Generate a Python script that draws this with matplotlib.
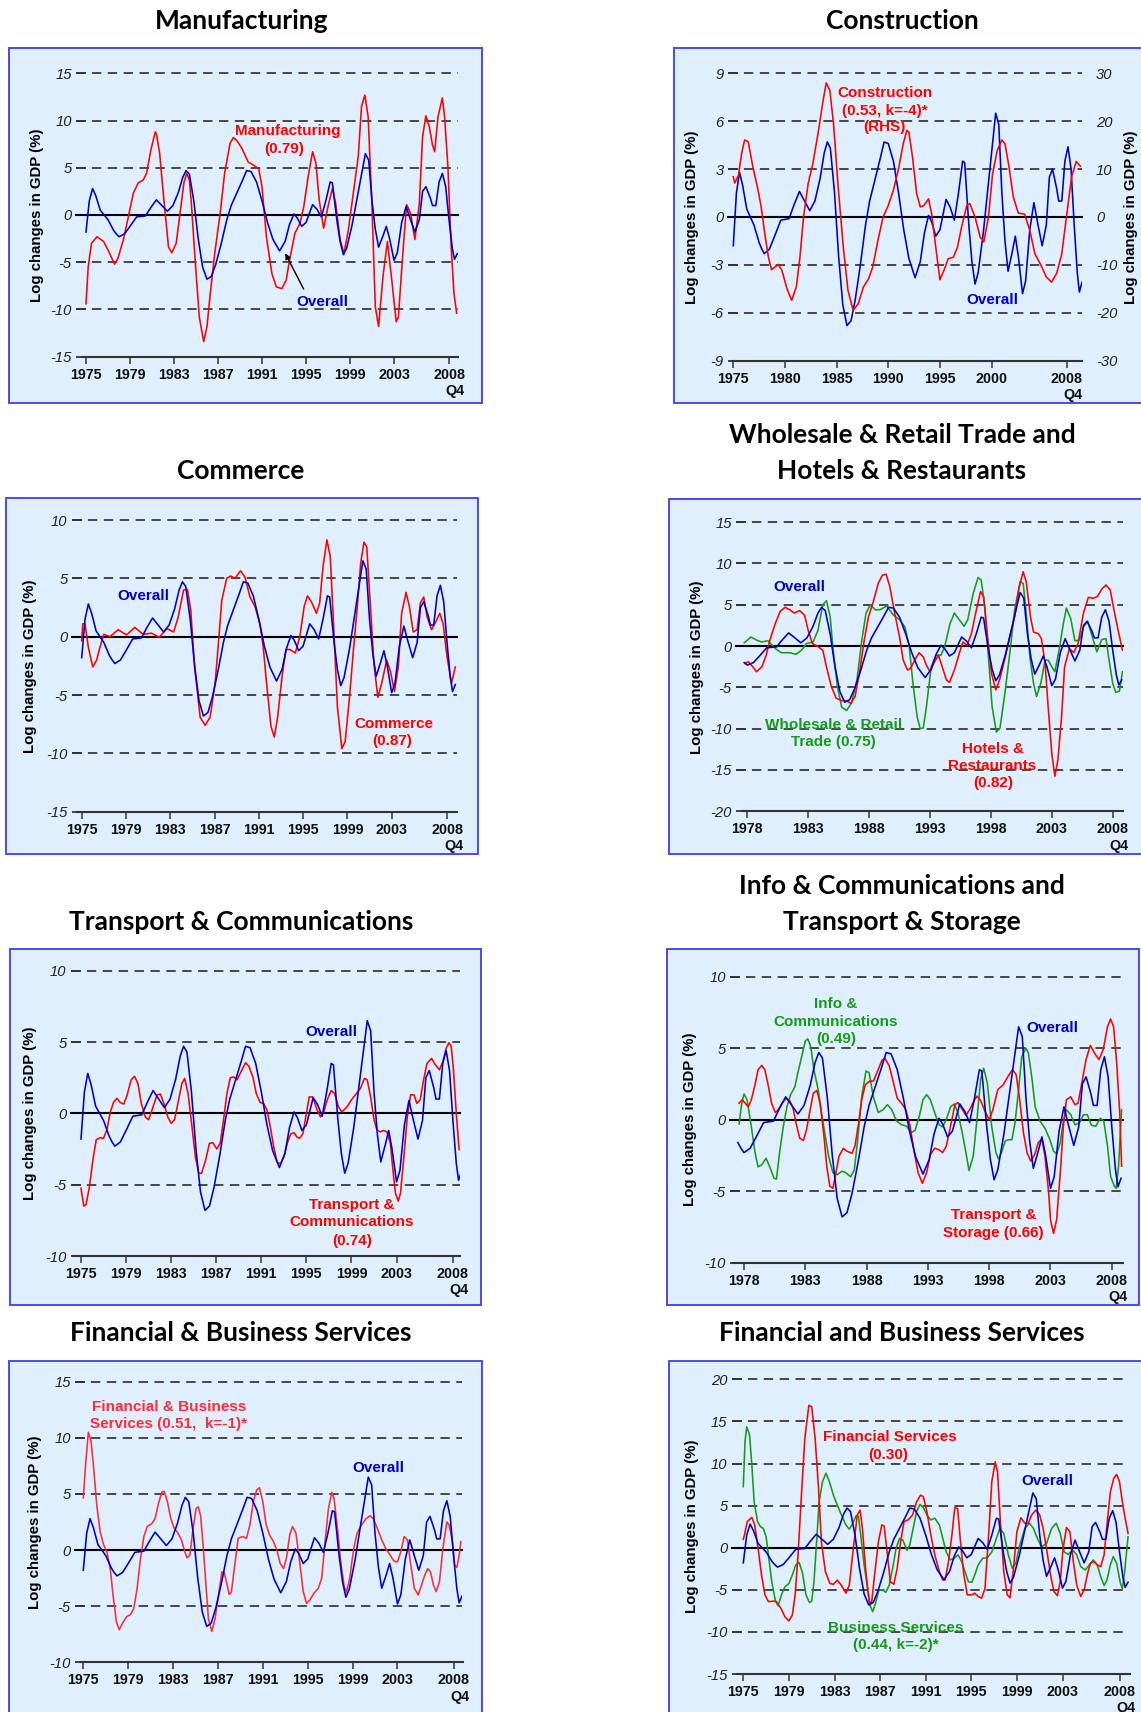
import matplotlib
matplotlib.use('Agg')
import matplotlib.pyplot as plt
from matplotlib.patches import Rectangle

# ---------------- DATA (year, value) ----------------
OVERALL = [(1975.0, -1.8), (1975.3, 1.5), (1975.6, 2.8), (1975.9, 2.0), (1976.3, 0.5), (1977.0, -0.5),
           (1977.5, -1.6), (1977.75, -2.0), (1978.0, -2.3), (1978.5, -2.0), (1979.0, -1.2), (1979.6, -0.2),
           (1980.4, -0.1), (1980.9, 0.8), (1981.4, 1.6), (1981.9, 1.0), (1982.4, 0.4), (1982.9, 1.0),
           (1983.4, 2.4), (1983.8, 4.0), (1984.1, 4.7), (1984.4, 4.3), (1984.8, 1.5), (1985.2, -2.5),
           (1985.6, -5.5), (1986.0, -6.8), (1986.4, -6.5), (1986.8, -5.2), (1987.3, -3.0), (1987.8, -0.5),
           (1988.2, 1.0), (1988.7, 2.3), (1989.2, 3.6), (1989.6, 4.7), (1990.0, 4.6), (1990.5, 3.5),
           (1991.0, 1.5), (1991.5, -0.8), (1992.0, -2.6), (1992.6, -3.8), (1993.1, -2.8), (1993.5, -1.0),
           (1993.9, 0.1), (1994.2, -0.3), (1994.6, -1.2), (1995.0, -0.8), (1995.6, 1.1), (1996.0, 0.6),
           (1996.4, -0.2), (1996.8, 1.5), (1997.2, 3.5), (1997.4, 3.4), (1997.8, -0.5), (1998.1, -2.8),
           (1998.4, -4.2), (1998.7, -3.5), (1999.2, -1.0), (1999.6, 1.5), (2000.0, 4.0), (2000.4, 6.5),
           (2000.7, 5.8), (2001.0, 1.5), (2001.3, -1.5), (2001.6, -3.4), (2002.0, -2.2), (2002.3, -1.2),
           (2002.6, -2.5), (2003.0, -4.8), (2003.3, -4.0), (2003.7, -0.8), (2004.1, 0.9), (2004.5, -0.5),
           (2004.9, -1.8), (2005.3, -0.5), (2005.6, 2.5), (2005.9, 3.0), (2006.3, 1.8), (2006.5, 1.0),
           (2006.8, 1.0), (2007.1, 3.5), (2007.4, 4.4), (2007.7, 3.0), (2008.0, -0.5), (2008.3, -3.5),
           (2008.5, -4.7), (2008.75, -4.1)]

MANUFACTURING = [(1975.0, -9.4), (1975.2, -5.5), (1975.5, -3.0), (1976.0, -2.3), (1976.6, -2.8), (1977.0, -3.7),
                 (1977.6, -5.2), (1977.9, -4.6), (1978.4, -2.6), (1978.85, -0.2), (1979.3, 2.3), (1979.75, 3.4),
                 (1980.2, 3.7), (1980.5, 4.4), (1980.9, 6.9), (1981.3, 8.8), (1981.4, 8.6), (1981.7, 6.5),
                 (1982.0, 2.6), (1982.5, -3.4), (1982.8, -4.0), (1983.2, -3.0), (1983.55, 0.2), (1983.9, 3.4),
                 (1984.15, 4.4), (1984.4, 3.7), (1984.6, 0.9), (1984.9, -4.4), (1985.3, -10.8), (1985.7, -13.4),
                 (1986.0, -11.8), (1986.3, -8.3), (1986.7, -4.1), (1987.2, 0.2), (1987.6, 4.4), (1988.1, 7.6),
                 (1988.4, 8.2), (1988.7, 7.9), (1989.15, 7.1), (1989.75, 5.6), (1990.2, 5.3), (1990.7, 4.9),
                 (1991.0, 3.0), (1991.4, -2.3), (1991.9, -6.2), (1992.3, -7.6), (1992.8, -7.8), (1993.2, -6.9),
                 (1993.5, -4.8), (1994.0, -1.9), (1994.45, -0.9), (1994.8, 0.9), (1995.2, 4.1), (1995.6, 6.7),
                 (1995.9, 5.5), (1996.2, 1.6), (1996.6, -1.4), (1997.0, 0.9), (1997.4, 2.8), (1997.7, 1.2),
                 (1998.1, -2.6), (1998.45, -4.1), (1998.85, -1.6), (1999.3, 2.3), (1999.75, 6.2), (2000.05, 11.5),
                 (2000.35, 12.7), (2000.65, 10.4), (2001.0, 0.9), (2001.3, -9.7), (2001.6, -11.8), (2002.0, -6.5),
                 (2002.4, -2.8), (2002.8, -6.9), (2003.2, -11.3), (2003.4, -10.8), (2003.8, -4.1), (2004.15, 1.1),
                 (2004.5, 0.2), (2004.9, -2.6), (2005.3, 1.2), (2005.6, 8.3), (2005.9, 10.5), (2006.2, 9.4),
                 (2006.5, 7.4), (2006.7, 6.7), (2007.0, 10.4), (2007.4, 12.4), (2007.6, 10.4), (2007.9, 5.1),
                 (2008.2, -3.4), (2008.45, -8.3), (2008.7, -10.4)]

CONSTRUCTION_RHS = [(1975.0, 8.4), (1975.15, 7.1), (1975.5, 8.7), (1975.8, 13.2), (1976.1, 16.1), (1976.45, 15.7),
                    (1976.9, 10.4), (1977.4, 5.6), (1977.7, 2.1), (1978.05, -3.5), (1978.4, -8.4), (1978.7, -11.0),
                    (1979.35, -9.9), (1979.7, -11.1), (1980.2, -15.0), (1980.65, -17.4), (1981.1, -14.6),
                    (1981.45, -8.4), (1981.8, 0.0), (1982.25, 7.0), (1982.7, 11.1), (1983.2, 17.4), (1983.7, 24.4),
                    (1984.0, 28.0), (1984.35, 26.4), (1984.7, 19.5), (1985.15, 6.3), (1985.65, -6.3), (1986.1, -15.3),
                    (1986.6, -19.5), (1987.1, -18.1), (1987.6, -14.6), (1988.1, -12.9), (1988.5, -10.4),
                    (1989.0, -4.9), (1989.5, 0.0), (1990.0, 2.4), (1990.5, 5.6), (1991.0, 10.1), (1991.45, 15.3),
                    (1991.8, 18.1), (1992.0, 17.7), (1992.35, 12.5), (1992.75, 4.9), (1993.1, 2.1), (1993.45, 2.4),
                    (1993.9, 3.8), (1994.2, 0.7), (1994.6, -6.3), (1995.0, -13.1), (1995.4, -11.1), (1995.8, -8.7),
                    (1996.3, -8.4), (1996.7, -6.3), (1997.1, -2.1), (1997.6, 2.4), (1997.9, 2.8), (1998.4, 0.0),
                    (1998.9, -4.2), (1999.25, -5.2), (1999.7, 0.0), (2000.1, 9.0), (2000.55, 13.9), (2001.0, 16.1),
                    (2001.3, 15.3), (2001.7, 10.4), (2002.1, 4.2), (2002.6, 0.8), (2003.2, 0.6), (2003.7, -2.8),
                    (2004.2, -7.7), (2004.7, -9.7), (2005.3, -12.5), (2005.8, -13.6), (2006.3, -11.8),
                    (2006.8, -7.7), (2007.25, 0.0), (2007.75, 8.4), (2008.2, 11.6), (2008.6, 10.6)]

COMMERCE = [(1975.0, -0.35), (1975.1, 1.1), (1975.3, 1.1), (1975.6, -0.9), (1976.0, -2.6), (1976.35, -2.0),
            (1976.65, -0.9), (1977.0, 0.2), (1977.55, 0.0), (1978.3, 0.6), (1979.05, 0.15), (1979.8, 0.8),
            (1980.55, 0.2), (1981.3, 0.3), (1982.0, -0.05), (1982.7, 0.7), (1983.3, 0.4), (1983.7, 1.6),
            (1984.2, 4.0), (1984.55, 4.05), (1984.85, 2.3), (1985.2, -2.6), (1985.7, -6.9), (1986.15, -7.6),
            (1986.6, -6.9), (1987.05, -4.0), (1987.35, -0.6), (1987.65, 3.1), (1988.1, 5.0), (1988.45, 5.2),
            (1988.85, 5.0), (1989.35, 5.65), (1989.75, 5.1), (1990.2, 3.4), (1990.65, 2.6), (1991.1, 1.1),
            (1991.4, -0.9), (1991.7, -4.0), (1992.1, -7.7), (1992.4, -8.6), (1992.7, -6.9), (1993.1, -3.4),
            (1993.45, -1.1), (1993.8, -1.1), (1994.3, -1.4), (1994.7, 0.0), (1995.1, 2.6), (1995.4, 3.5),
            (1995.8, 2.9), (1996.2, 2.0), (1996.5, 2.9), (1996.8, 6.0), (1997.15, 8.3), (1997.45, 6.9),
            (1997.75, 1.1), (1998.1, -6.0), (1998.5, -9.6), (1998.8, -9.0), (1999.2, -5.1), (1999.55, -1.1),
            (1999.9, 2.6), (2000.2, 6.3), (2000.5, 8.1), (2000.75, 7.7), (2001.05, 3.1), (2001.4, -2.3),
            (2001.75, -5.2), (2002.1, -4.0), (2002.55, -2.0), (2002.9, -3.0), (2003.25, -4.7), (2003.6, -2.6),
            (2003.9, 2.0), (2004.3, 3.8), (2004.6, 2.6), (2004.95, 0.4), (2005.3, 0.6), (2005.6, 2.9),
            (2005.9, 3.4), (2006.2, 1.7), (2006.6, 0.6), (2007.0, 1.3), (2007.35, 2.0), (2007.65, 1.1),
            (2008.0, -1.7), (2008.4, -4.0), (2008.75, -2.6)]

WHOLESALE = [(1977.75, 0.4), (1978.3, 1.1), (1978.8, 0.7), (1979.2, 0.5), (1979.7, 0.65), (1980.3, -0.3),
             (1980.8, -0.8), (1981.5, -0.8), (1982.0, -1.0), (1982.45, -0.5), (1982.85, 0.3), (1983.4, 0.5),
             (1983.8, 1.9), (1984.2, 5.0), (1984.5, 5.5), (1984.8, 3.6), (1985.05, -0.5), (1985.4, -4.9),
             (1985.75, -7.4), (1986.15, -7.8), (1986.55, -6.9), (1987.0, -4.1), (1987.4, 0.7), (1987.75, 4.0),
             (1988.1, 5.0), (1988.5, 4.4), (1988.9, 4.4), (1989.45, 4.85), (1990.0, 3.75), (1990.5, 3.2),
             (1990.95, 2.3), (1991.3, -0.1), (1991.6, -4.5), (1991.95, -8.6), (1992.2, -10.0), (1992.45, -9.9),
             (1992.7, -7.4), (1993.1, -2.5), (1993.5, -1.1), (1993.9, -1.1), (1994.2, -0.1), (1994.65, 2.75),
             (1995.0, 4.0), (1995.4, 3.2), (1995.8, 2.4), (1996.1, 3.2), (1996.55, 6.4), (1996.95, 8.3),
             (1997.2, 8.0), (1997.5, 4.8), (1997.8, -1.3), (1998.1, -7.35), (1998.45, -10.4), (1998.75, -9.9),
             (1999.15, -5.7), (1999.55, -0.9), (1999.95, 4.4), (2000.4, 7.8), (2000.65, 7.6), (2000.9, 4.0),
             (2001.2, -1.3), (2001.5, -4.5), (2001.75, -6.1), (2002.1, -4.5), (2002.45, -1.7), (2002.7, -1.7),
             (2003.0, -2.5), (2003.25, -3.1), (2003.6, -0.5), (2003.95, 2.75), (2004.2, 4.6), (2004.55, 3.35),
             (2004.9, 0.65), (2005.25, 0.7), (2005.6, 2.3), (2005.95, 3.0), (2006.25, 1.5), (2006.7, -0.7),
             (2007.1, 0.8), (2007.45, 0.9), (2007.7, -1.7), (2008.0, -4.5), (2008.25, -5.6), (2008.55, -5.45),
             (2008.8, -3.1)]

HOTELS = [(1977.8, -2.1), (1978.1, -1.9), (1978.45, -2.5), (1978.75, -3.1), (1979.2, -2.5), (1979.55, -1.1),
          (1979.85, 0.7), (1980.3, 2.75), (1980.7, 4.2), (1981.1, 4.7), (1981.5, 4.4), (1981.85, 4.0),
          (1982.3, 4.3), (1982.7, 3.75), (1983.0, 1.9), (1983.35, 0.3), (1983.75, 0.0), (1984.2, -0.5),
          (1984.5, -2.5), (1984.9, -4.9), (1985.3, -6.3), (1985.75, -6.6), (1986.15, -6.6), (1986.5, -6.95),
          (1986.85, -6.1), (1987.2, -3.3), (1987.6, 0.7), (1987.95, 3.55), (1988.35, 5.4), (1988.75, 7.6),
          (1989.1, 8.6), (1989.4, 8.7), (1989.7, 7.2), (1990.1, 4.0), (1990.5, 1.1), (1990.8, -1.7),
          (1991.15, -2.9), (1991.4, -2.7), (1991.75, -1.7), (1992.1, -0.8), (1992.45, -1.3), (1992.7, -2.3),
          (1993.0, -3.1), (1993.3, -2.1), (1993.7, -1.1), (1994.0, -2.5), (1994.35, -4.1), (1994.6, -4.4),
          (1995.0, -2.9), (1995.4, -0.9), (1995.7, 0.5), (1996.05, 0.1), (1996.4, 1.5), (1996.75, 4.0),
          (1997.15, 6.6), (1997.4, 6.0), (1997.7, 1.5), (1998.05, -3.3), (1998.4, -5.3), (1998.75, -3.9),
          (1999.15, -1.5), (1999.55, 1.1), (1999.95, 3.55), (2000.3, 7.0), (2000.65, 9.0), (2000.9, 7.8),
          (2001.25, 3.55), (2001.5, 1.7), (2001.9, 1.5), (2002.15, 0.9), (2002.45, -2.1), (2002.7, -7.35),
          (2003.0, -13.0), (2003.25, -15.75), (2003.5, -13.8), (2003.8, -8.6), (2004.05, -2.5), (2004.45, -0.3),
          (2004.8, -0.8), (2005.15, 0.3), (2005.6, 4.0), (2006.0, 5.9), (2006.4, 5.8), (2006.75, 6.0),
          (2007.1, 6.9), (2007.45, 7.4), (2007.8, 6.8), (2008.1, 4.4), (2008.45, 1.9), (2008.8, -0.5)]

TRANSPORT_COMM = [(1975.0, -5.25), (1975.25, -6.5), (1975.45, -6.4), (1975.75, -5.15), (1976.05, -3.3),
                  (1976.35, -1.85), (1976.7, -1.7), (1977.0, -1.75), (1977.3, -1.15), (1977.6, 0.1), (1977.9, 0.8),
                  (1978.2, 1.05), (1978.5, 0.75), (1978.8, 0.65), (1979.1, 1.3), (1979.45, 2.35), (1979.75, 2.6),
                  (1980.05, 2.1), (1980.35, 0.7), (1980.7, -0.25), (1981.0, -0.45), (1981.35, 0.35), (1981.75, 1.3),
                  (1982.05, 1.35), (1982.35, 0.7), (1982.7, -0.25), (1983.0, -0.7), (1983.3, -0.45), (1983.6, 0.7),
                  (1983.95, 2.1), (1984.2, 2.45), (1984.5, 1.4), (1984.85, -0.95), (1985.15, -3.05), (1985.45, -4.2),
                  (1985.7, -4.2), (1986.05, -3.3), (1986.4, -2.1), (1986.7, -2.05), (1987.05, -2.5), (1987.35, -2.1),
                  (1987.65, -0.45), (1987.95, 1.4), (1988.25, 2.5), (1988.55, 2.55), (1988.85, 2.35), (1989.25, 3.0),
                  (1989.6, 3.55), (1989.9, 3.3), (1990.25, 2.55), (1990.55, 1.4), (1990.9, 0.75), (1991.2, 0.7),
                  (1991.5, 0.25), (1991.8, -0.95), (1992.1, -2.35), (1992.4, -3.4), (1992.7, -3.55), (1993.0, -3.05),
                  (1993.3, -2.1), (1993.6, -1.45), (1993.9, -1.35), (1994.15, -1.65), (1994.4, -1.75), (1994.7, -1.4),
                  (1995.0, 0.0), (1995.25, 1.15), (1995.55, 1.15), (1995.95, 0.25), (1996.25, -0.25), (1996.55, 0.1),
                  (1996.85, 0.95), (1997.2, 1.6), (1997.5, 1.4), (1997.85, 0.45), (1998.15, 0.1), (1998.6, 0.45),
                  (1999.0, 0.95), (1999.35, 1.3), (1999.8, 1.75), (2000.15, 2.45), (2000.4, 2.35), (2000.7, 1.15),
                  (2001.0, -0.45), (2001.25, -1.15), (2001.55, -1.3), (2001.85, -1.2), (2002.15, -1.3), (2002.45, -2.1),
                  (2002.65, -3.75), (2002.9, -5.6), (2003.15, -6.15), (2003.35, -5.6), (2003.65, -3.05),
                  (2003.95, -0.25), (2004.25, 1.3), (2004.55, 1.3), (2004.8, 0.7), (2005.1, 0.95), (2005.4, 2.35),
                  (2005.7, 3.5), (2006.1, 3.85), (2006.45, 3.4), (2006.8, 3.05), (2007.1, 3.6), (2007.4, 4.55),
                  (2007.65, 4.95), (2007.85, 4.7), (2008.05, 3.05), (2008.3, 0.0), (2008.55, -2.55)]

INFO_COMM = [(1977.6, -0.3), (1977.8, 1.05), (1978.0, 1.8), (1978.25, 1.4), (1978.6, -0.5), (1978.9, -2.3),
             (1979.15, -3.3), (1979.45, -3.15), (1979.8, -2.7), (1980.1, -3.3), (1980.45, -4.1), (1980.65, -4.15),
             (1980.9, -2.3), (1981.2, -0.5), (1981.5, 0.9), (1981.8, 1.75), (1982.15, 2.3), (1982.4, 3.3),
             (1982.7, 4.4), (1983.0, 5.5), (1983.2, 5.65), (1983.45, 5.1), (1983.7, 3.5), (1984.05, 2.1),
             (1984.45, -0.2), (1984.9, -2.55), (1985.25, -3.7), (1985.6, -3.85), (1986.0, -3.6), (1986.3, -3.7),
             (1986.7, -4.0), (1987.0, -3.5), (1987.25, -1.6), (1987.6, 1.6), (1987.95, 3.4), (1988.2, 3.3),
             (1988.55, 1.6), (1988.95, 0.5), (1989.35, 0.7), (1989.7, 1.05), (1990.05, 0.7), (1990.45, -0.1),
             (1990.85, -0.35), (1991.25, -0.45), (1991.65, -0.9), (1991.95, -0.75), (1992.3, 0.25), (1992.6, 1.4),
             (1992.9, 1.75), (1993.2, 1.4), (1993.55, 0.5), (1993.9, -0.35), (1994.2, -0.5), (1994.5, 0.0),
             (1994.85, 0.9), (1995.15, 1.1), (1995.45, 0.5), (1995.8, -0.9), (1996.15, -2.55), (1996.35, -3.55),
             (1996.7, -2.55), (1997.0, 0.0), (1997.3, 2.8), (1997.55, 3.6), (1997.85, 2.55), (1998.2, -0.45),
             (1998.55, -2.3), (1998.75, -2.75), (1999.0, -2.3), (1999.3, -1.5), (1999.55, -1.4), (1999.85, -1.4),
             (2000.1, -0.25), (2000.4, 2.1), (2000.65, 4.4), (2001.0, 5.0), (2001.2, 4.65), (2001.5, 2.8),
             (2001.75, 0.9), (2002.15, -0.1), (2002.55, -0.6), (2002.95, -1.4), (2003.25, -2.2), (2003.5, -2.4),
             (2003.8, -1.6), (2004.05, -0.1), (2004.3, 0.7), (2004.65, 0.35), (2005.0, -0.35), (2005.35, -0.25),
             (2005.7, 0.35), (2006.0, 0.35), (2006.35, -0.4), (2006.7, -0.45), (2007.05, 0.1), (2007.35, -0.1),
             (2007.65, -1.85), (2007.9, -3.95), (2008.2, -4.65), (2008.35, -4.8), (2008.55, -3.25), (2008.8, 0.7)]

TRANSPORT_STORAGE = [(1977.6, 1.15), (1977.85, 1.4), (1978.1, 1.15), (1978.35, 0.9), (1978.6, 1.4), (1978.9, 2.45),
                     (1979.15, 3.5), (1979.45, 3.8), (1979.7, 3.5), (1980.0, 2.3), (1980.25, 1.15), (1980.55, 0.5),
                     (1980.8, 0.7), (1981.1, 1.15), (1981.45, 1.5), (1981.75, 1.3), (1982.0, 0.8), (1982.3, -0.45),
                     (1982.55, -1.3), (1982.85, -1.45), (1983.1, -0.7), (1983.4, 0.7), (1983.65, 1.85), (1983.95, 2.05),
                     (1984.2, 1.15), (1984.5, -0.95), (1984.75, -3.25), (1985.0, -4.65), (1985.25, -4.8), (1985.5, -3.7),
                     (1985.75, -2.55), (1986.1, -2.0), (1986.4, -2.2), (1986.8, -2.35), (1987.05, -1.85), (1987.35, -0.25),
                     (1987.6, 1.4), (1987.9, 2.45), (1988.25, 2.7), (1988.55, 2.7), (1988.9, 3.4), (1989.25, 4.15),
                     (1989.5, 4.3), (1989.85, 3.75), (1990.2, 2.55), (1990.5, 1.5), (1990.85, 1.15), (1991.2, 0.7),
                     (1991.55, -0.45), (1991.85, -2.1), (1992.2, -3.7), (1992.55, -4.45), (1992.9, -3.7), (1993.2, -2.45),
                     (1993.55, -2.0), (1993.9, -2.1), (1994.2, -2.3), (1994.5, -1.85), (1994.85, -0.45), (1995.2, 1.05),
                     (1995.45, 1.2), (1995.75, 0.8), (1996.1, 0.3), (1996.4, 0.7), (1996.75, 1.3), (1997.0, 1.65),
                     (1997.3, 1.35), (1997.65, 0.6), (1998.0, 0.0), (1998.3, 0.7), (1998.7, 2.1), (1999.15, 2.45),
                     (1999.55, 3.05), (1999.9, 3.5), (2000.2, 3.15), (2000.45, 1.65), (2000.8, -0.95), (2001.1, -2.35),
                     (2001.4, -2.9), (2001.75, -2.35), (2002.0, -1.6), (2002.3, -1.35), (2002.55, -2.55), (2002.85, -5.1),
                     (2003.0, -7.0), (2003.25, -7.95), (2003.5, -7.0), (2003.8, -3.7), (2004.05, -0.45), (2004.3, 1.4),
                     (2004.65, 1.6), (2005.0, 1.05), (2005.25, 1.15), (2005.55, 2.55), (2005.9, 4.2), (2006.25, 5.2),
                     (2006.6, 4.65), (2006.95, 4.2), (2007.3, 4.9), (2007.65, 6.5), (2007.9, 7.05), (2008.15, 6.5),
                     (2008.4, 3.95), (2008.65, 0.45), (2008.8, -3.25)]

FIN_BUS = [(1975.0, 4.65), (1975.2, 7.55), (1975.45, 10.5), (1975.7, 9.65), (1975.95, 7.0), (1976.2, 4.0),
           (1976.5, 1.65), (1976.8, 0.5), (1977.1, -0.15), (1977.4, -1.65), (1977.65, -4.0), (1977.95, -6.4),
           (1978.2, -7.1), (1978.5, -6.5), (1978.85, -5.95), (1979.2, -5.75), (1979.5, -5.2), (1979.8, -3.4),
           (1980.1, -0.75), (1980.4, 1.2), (1980.7, 2.1), (1981.1, 2.35), (1981.4, 2.8), (1981.7, 4.15),
           (1982.0, 5.15), (1982.2, 5.25), (1982.5, 4.3), (1982.8, 2.8), (1983.1, 1.95), (1983.45, 1.5),
           (1983.75, 0.9), (1984.05, -0.15), (1984.25, -0.7), (1984.5, -0.45), (1984.75, 1.65), (1985.05, 3.7),
           (1985.25, 3.85), (1985.45, 3.1), (1985.7, 0.15), (1985.95, -3.4), (1986.15, -6.1), (1986.45, -7.25),
           (1986.75, -6.1), (1987.05, -4.0), (1987.35, -1.95), (1987.55, -1.95), (1987.75, -2.8), (1988.0, -3.95),
           (1988.2, -3.75), (1988.5, -1.35), (1988.8, 1.05), (1989.2, 1.2), (1989.55, 1.05), (1989.85, 2.25),
           (1990.15, 4.3), (1990.45, 5.35), (1990.7, 5.55), (1991.0, 4.3), (1991.3, 2.25), (1991.6, 1.35),
           (1991.95, 0.75), (1992.25, 0.0), (1992.55, -1.2), (1992.85, -1.65), (1993.1, -0.75), (1993.4, 1.35),
           (1993.65, 2.1), (1993.95, 1.5), (1994.25, -0.75), (1994.6, -3.7), (1994.9, -4.75), (1995.2, -4.45),
           (1995.55, -3.85), (1995.95, -3.4), (1996.25, -2.5), (1996.55, 0.75), (1996.85, 3.7), (1997.15, 5.15),
           (1997.35, 4.6), (1997.65, 1.95), (1997.95, -1.05), (1998.25, -3.25), (1998.45, -3.75), (1998.75, -2.5),
           (1999.1, 0.15), (1999.4, 1.5), (1999.8, 2.25), (2000.2, 2.8), (2000.55, 3.05), (2000.85, 2.8),
           (2001.2, 1.95), (2001.6, 0.9), (2001.95, 0.15), (2002.35, -0.45), (2002.7, -1.0), (2003.0, -1.05),
           (2003.3, -0.15), (2003.6, 1.2), (2003.9, 0.9), (2004.15, -1.05), (2004.5, -3.4), (2004.85, -4.0),
           (2005.15, -3.1), (2005.45, -2.2), (2005.7, -1.65), (2005.95, -1.95), (2006.2, -3.1), (2006.45, -3.7),
           (2006.75, -2.8), (2007.05, 0.15), (2007.4, 2.5), (2007.6, 2.25), (2007.9, 0.75), (2008.1, -1.35),
           (2008.3, -1.55), (2008.5, -0.45), (2008.65, 0.75)]

FINANCIAL = [(1975.0, 1.0), (1975.1, 1.5), (1975.35, 3.1), (1975.75, 3.6), (1976.0, 2.7), (1976.3, -0.1),
             (1976.6, -3.25), (1976.9, -5.6), (1977.2, -6.4), (1977.65, -6.35), (1977.9, -6.4), (1978.3, -7.2),
             (1978.65, -8.2), (1979.0, -8.7), (1979.3, -8.0), (1979.55, -5.6), (1979.8, -0.9), (1980.1, 6.25),
             (1980.4, 13.0), (1980.75, 16.9), (1981.0, 16.75), (1981.3, 13.0), (1981.6, 7.05), (1981.85, 0.7),
             (1982.2, -2.85), (1982.6, -4.25), (1982.9, -4.35), (1983.25, -3.85), (1983.6, -4.45), (1984.0, -5.4),
             (1984.3, -4.45), (1984.65, -0.1), (1985.0, 3.9), (1985.25, 4.45), (1985.45, 2.3), (1985.75, -2.85),
             (1986.05, -6.4), (1986.25, -6.6), (1986.55, -2.85), (1986.85, 0.7), (1987.15, 2.7), (1987.35, 2.6),
             (1987.65, -0.9), (1987.9, -4.05), (1988.2, -4.35), (1988.5, -2.45), (1988.8, 0.7), (1989.1, 3.1),
             (1989.45, 3.3), (1989.85, 3.9), (1990.2, 5.45), (1990.55, 6.25), (1990.8, 6.05), (1991.1, 4.3),
             (1991.45, 1.5), (1991.8, -0.85), (1992.2, -2.85), (1992.5, -3.85), (1992.7, -3.85), (1993.0, -1.65),
             (1993.3, 1.5), (1993.55, 4.75), (1993.8, 4.65), (1994.05, 0.7), (1994.35, -3.25), (1994.65, -5.6),
             (1995.05, -5.6), (1995.3, -5.4), (1995.6, -5.8), (1995.9, -6.0), (1996.2, -4.85), (1996.5, 1.1),
             (1996.8, 7.85), (1997.1, 10.2), (1997.3, 9.0), (1997.55, 3.1), (1997.85, -2.85), (1998.15, -5.6),
             (1998.4, -5.95), (1998.7, -2.45), (1999.0, 1.9), (1999.35, 3.55), (1999.7, 2.9), (2000.0, 2.9),
             (2000.3, 3.9), (2000.65, 4.45), (2001.0, 3.9), (2001.3, 2.3), (2001.6, -0.1), (2001.95, -3.25),
             (2002.25, -5.2), (2002.55, -5.7), (2002.8, -4.05), (2003.05, -0.1), (2003.35, 2.4), (2003.65, 1.9),
             (2003.95, -1.65), (2004.25, -4.45), (2004.6, -5.8), (2004.9, -5.0), (2005.2, -3.05), (2005.45, -1.85),
             (2005.75, -1.65), (2006.05, -2.05), (2006.35, -2.25), (2006.65, -0.85), (2006.9, 2.7), (2007.2, 6.65),
             (2007.5, 8.25), (2007.75, 8.7), (2008.0, 7.85), (2008.25, 5.45), (2008.55, 3.1), (2008.75, 1.7)]

BUSINESS = [(1975.0, 7.25), (1975.15, 12.6), (1975.3, 14.35), (1975.55, 13.4), (1975.75, 9.8), (1975.95, 5.45),
            (1976.25, 3.1), (1976.5, 2.5), (1976.75, 2.3), (1977.0, 1.3), (1977.2, -0.85), (1977.5, -4.05),
            (1977.8, -6.2), (1978.05, -6.9), (1978.35, -5.6), (1978.65, -4.65), (1979.0, -4.25), (1979.3, -3.25),
            (1979.6, -2.05), (1979.9, -1.75), (1980.2, -3.05), (1980.5, -5.6), (1980.8, -6.5), (1981.0, -6.35),
            (1981.2, -4.05), (1981.45, 1.1), (1981.65, 5.45), (1981.95, 7.85), (1982.25, 8.85), (1982.55, 7.85),
            (1982.9, 6.25), (1983.25, 5.05), (1983.6, 3.9), (1984.0, 2.7), (1984.3, 2.2), (1984.6, 2.9),
            (1984.9, 3.8), (1985.1, 3.75), (1985.3, 1.5), (1985.6, -2.05), (1985.9, -4.85), (1986.1, -6.8),
            (1986.35, -7.6), (1986.6, -6.6), (1986.9, -5.0), (1987.2, -5.0), (1987.5, -5.3), (1987.8, -4.45),
            (1988.1, -2.45), (1988.4, -0.1), (1988.7, 1.1), (1989.0, 0.9), (1989.35, -0.3), (1989.6, 0.3),
            (1989.9, 2.3), (1990.2, 4.3), (1990.5, 5.15), (1990.8, 4.75), (1991.1, 3.9), (1991.45, 3.3),
            (1991.8, 3.5), (1992.2, 2.7), (1992.5, 1.1), (1992.8, -0.5), (1993.15, -1.45), (1993.5, -1.25),
            (1993.85, -0.85), (1994.15, -1.65), (1994.45, -2.85), (1994.75, -4.05), (1995.05, -4.1), (1995.3, -3.25),
            (1995.6, -2.05), (1996.0, -1.25), (1996.4, -1.2), (1996.8, -0.5), (1997.15, 0.9), (1997.5, 2.3),
            (1997.85, 1.7), (1998.25, -0.85), (1998.6, -2.45), (1998.9, -1.85), (1999.25, 0.3), (1999.7, 2.3),
            (2000.1, 2.9), (2000.45, 2.3), (2000.8, 1.1), (2001.15, 0.1), (2001.6, 0.5), (2002.05, 2.3),
            (2002.45, 2.9), (2002.8, 1.7), (2003.15, -0.5), (2003.5, -0.8), (2003.9, -0.3), (2004.25, -0.85),
            (2004.6, -2.25), (2005.0, -2.65), (2005.35, -2.05), (2005.7, -1.45), (2006.05, -2.05), (2006.35, -3.45),
            (2006.65, -4.5), (2006.9, -3.85), (2007.2, -2.05), (2007.45, -1.05), (2007.75, -1.85), (2008.05, -4.05),
            (2008.25, -4.9), (2008.45, -2.85), (2008.75, 1.3)]

TICKS_4Y = [1975, 1979, 1983, 1987, 1991, 1995, 1999, 2003, 2008]
TICKS_4Y_LABELS = ['1975', '1979', '1983', '1987', '1991', '1995', '1999', '2003', '2008\nQ4']
TICKS_CONSTR = [1975, 1980, 1985, 1990, 1995, 2000, 2007.3]
TICKS_CONSTR_LABELS = ['1975', '1980', '1985', '1990', '1995', '2000', '2008\nQ4']
TICKS_5Y = [1978, 1983, 1988, 1993, 1998, 2003, 2008]
TICKS_5Y_LABELS = ['1978', '1983', '1988', '1993', '1998', '2003', '2008\nQ4']

TITLES = ['Manufacturing', 'Construction', 'Commerce', 'Wholesale & Retail Trade and', 'Hotels & Restaurants',
          'Transport & Communications', 'Info & Communications and', 'Transport & Storage',
          'Financial & Business Services', 'Financial and Business Services']
YLABEL = 'Log changes in GDP (%)'

# ---------------- STYLE / LAYOUT ----------------
W, H = 1141, 1712
fig = plt.figure(figsize=(W / 100, H / 100), dpi=100)
fig.patch.set_facecolor('white')

BG = '#dfeffd'
EDGE = '#4a4aee'
RED = '#ff0000'
BLUE = '#0000c8'
GREEN = '#169a1a'
LAB = 'Liberation Sans'


def fx(x):
    return x / W


def fy(y):
    return 1 - y / H


def xs_ys(series, start=None):
    pts = [p for p in series if start is None or p[0] >= start - 1e-9]
    return [p[0] for p in pts], [p[1] for p in pts]


def panel(box, axpx, anchor, ylim, yticks, xticks, xlabels, bstart, ylab_x):
    x0, y0, x1, y1 = box
    fig.add_artist(Rectangle((fx(x0), fy(y1)), (x1 - x0) / W, (y1 - y0) / H, transform=fig.transFigure,
                             facecolor=BG, edgecolor=EDGE, lw=1.4, zorder=0))
    l, t, r, b = axpx
    ax = fig.add_axes([fx(l), fy(b), (r - l) / W, (b - t) / H])
    ax.set_facecolor('none')
    yr0, px0, k = anchor
    xl = (yr0 + (l - px0) / k, yr0 + (r - px0) / k)
    ax.set_xlim(*xl)
    ax.set_ylim(*ylim)
    for s in ['top', 'right', 'left']:
        ax.spines[s].set_visible(False)
    ax.spines['bottom'].set_color('#333333')
    ax.spines['bottom'].set_linewidth(1.5)
    ax.spines['bottom'].set_bounds(yr0 + (bstart - px0) / k, xl[1])
    ax.set_xticks(xticks)
    labs = ax.set_xticklabels(xlabels, fontweight='bold', fontsize=10.3, fontfamily=LAB, color='#111111')
    labs[-1].set_multialignment('right')
    ax.tick_params(axis='x', direction='out', length=5, width=1.2, color='#444444', pad=3)
    ax.set_yticks(yticks)
    ax.set_yticklabels([str(v) for v in yticks], fontstyle='italic', fontsize=10.6, fontfamily=LAB,
                       color='#222222')
    ax.tick_params(axis='y', direction='in', length=7, width=1.3, color='#333333', pad=3)
    for v in yticks:
        if v == 0:
            ax.axhline(0, color='black', lw=1.5, zorder=2, clip_on=False)
        elif v != ylim[0]:
            ax.axhline(v, color='#3a3a3a', lw=1.3, ls=(0, (5.2, 3.6)), zorder=1, clip_on=False)
    ax.set_ylabel(YLABEL, fontweight='bold', fontsize=10.8, fontfamily=LAB)
    ax.yaxis.label.set_verticalalignment('center')
    ax.yaxis.set_label_coords(fx(ylab_x), fy((t + b) / 2), transform=fig.transFigure)
    return ax


def note(x, y, s, color, fs=11):
    fig.text(fx(x), fy(y), s, color=color, fontweight='bold', fontsize=fs, fontfamily=LAB,
             ha='center', va='center', zorder=10)


def title(x, y, s):
    fig.text(fx(x), fy(y), s, fontweight='bold', fontsize=19, fontfamily='Lato', ha='center',
             va='center')


LW = 1.15

# Panel 1: Manufacturing
title(242, 21, TITLES[0])
ax = panel((9, 48, 482, 403), (76, 73.3, 458, 356.7), (1975, 86, 11.0), (-15, 15),
           [15, 10, 5, 0, -5, -10, -15], TICKS_4Y, TICKS_4Y_LABELS, 81.7, 37)
ax.plot(*xs_ys(MANUFACTURING), color=RED, lw=LW, zorder=3)
ax.plot(*xs_ys(OVERALL), color=BLUE, lw=LW, zorder=4)
ax.annotate('', xy=(1993.0, -3.8), xytext=(1994.9, -8.1),
            arrowprops=dict(arrowstyle='-|>', color='black', lw=1.0, mutation_scale=8))
note(288, 131, 'Manufacturing', RED)
note(284, 148.5, '(0.79)', RED)
note(322, 302, 'Overall', BLUE)

# Panel 2: Construction
title(902, 21, TITLES[1])
ax = panel((674, 48, 1150, 403), (728, 73.3, 1082, 360.7), (1975, 733.3, 10.33), (-9, 9),
           [9, 6, 3, 0, -3, -6, -9], TICKS_CONSTR, TICKS_CONSTR_LABELS, 732, 692)
ax2 = ax.twinx()
ax2.set_ylim(-30, 30)
ax2.set_facecolor('none')
for s in ['top', 'right', 'left', 'bottom']:
    ax2.spines[s].set_visible(False)
ax2.set_yticks([30, 20, 10, 0, -10, -20, -30])
ax2.set_yticklabels(['30', '20', '10', '0', '-10', '-20', '-30'], fontstyle='italic', fontsize=10.6,
                    fontfamily=LAB, color='#222222')
ax2.tick_params(axis='y', length=0, pad=10)
ax2.set_ylabel(YLABEL, fontweight='bold', fontsize=10.8, fontfamily=LAB, rotation=90)
ax2.yaxis.label.set_verticalalignment('center')
ax2.yaxis.set_label_coords(fx(1131), fy(217), transform=fig.transFigure)
ax2.plot(*xs_ys(CONSTRUCTION_RHS), color=RED, lw=LW, zorder=3)
ax.plot(*xs_ys(OVERALL), color=BLUE, lw=LW, zorder=4)
note(885, 93, 'Construction', RED)
note(885, 111, '(0.53, k=-4)*', RED)
note(884, 127.5, '(RHS)', RED)
note(992, 299.5, 'Overall', BLUE)

# Panel 3: Commerce
title(241, 471, TITLES[2])
ax = panel((6, 498, 478, 854), (71.7, 520, 456.7, 811.7), (1975, 81.7, 11.07), (-15, 10),
           [10, 5, 0, -5, -10, -15], TICKS_4Y, TICKS_4Y_LABELS, 76.7, 30)
ax.plot(*xs_ys(COMMERCE), color=RED, lw=LW, zorder=3)
ax.plot(*xs_ys(OVERALL), color=BLUE, lw=LW, zorder=4)
note(143.5, 596, 'Overall', BLUE)
note(394, 723.5, 'Commerce', RED)
note(392, 741.5, '(0.87)', RED)

# Panel 4: Wholesale & Retail / Hotels & Restaurants
title(902, 435, TITLES[3])
title(902, 471, TITLES[4])
ax = panel((669, 499, 1150, 854), (736, 522.2, 1123.3, 811.3), (1978, 747.3, 12.18), (-20, 15),
           [15, 10, 5, 0, -5, -10, -15, -20], TICKS_5Y, TICKS_5Y_LABELS, 741.7, 697)
ax.plot(*xs_ys(WHOLESALE), color=GREEN, lw=LW, zorder=3)
ax.plot(*xs_ys(HOTELS), color=RED, lw=LW, zorder=3)
ax.plot(*xs_ys(OVERALL, 1977.75), color=BLUE, lw=LW, zorder=4)
note(799.5, 587, 'Overall', BLUE)
note(833.5, 725, 'Wholesale & Retail', GREEN)
note(833.5, 742, 'Trade (0.75)', GREEN)
note(993.5, 749, 'Hotels &', RED)
note(992, 766, 'Restaurants', RED)
note(993.5, 783.5, '(0.82)', RED)

# Panel 5: Transport & Communications
title(241, 922, TITLES[5])
ax = panel((10, 949, 481, 1305), (70.7, 970.7, 459.5, 1256), (1975, 81, 11.27), (-10, 10),
           [10, 5, 0, -5, -10], TICKS_4Y, TICKS_4Y_LABELS, 73, 30)
ax.plot(*xs_ys(TRANSPORT_COMM), color=RED, lw=LW, zorder=3)
ax.plot(*xs_ys(OVERALL), color=BLUE, lw=LW, zorder=4)
note(331, 1032, 'Overall', BLUE)
note(352, 1205, 'Transport &', RED)
note(352, 1222.5, 'Communications', RED)
note(352, 1241, '(0.74)', RED)

# Panel 6: Info & Communications / Transport & Storage
title(902, 886, TITLES[6])
title(902, 922, TITLES[7])
ax = panel((667, 949, 1139, 1305), (730, 976.7, 1123.3, 1262.7), (1978, 744, 12.26), (-10, 10),
           [10, 5, 0, -5, -10], TICKS_5Y, TICKS_5Y_LABELS, 733, 690)
ax.plot(*xs_ys(INFO_COMM), color=GREEN, lw=LW, zorder=3)
ax.plot(*xs_ys(TRANSPORT_STORAGE), color=RED, lw=LW, zorder=3)
ax.plot(*xs_ys(OVERALL, 1977.5), color=BLUE, lw=LW, zorder=4)
note(836, 1003.5, 'Info &', GREEN)
note(836, 1021.5, 'Communications', GREEN)
note(836, 1039, '(0.49)', GREEN)
note(1052, 1028.5, 'Overall', BLUE)
note(993.5, 1215, 'Transport &', RED)
note(993.5, 1232.5, 'Storage (0.66)', RED)

# Panel 7: Financial & Business Services
title(241, 1333, TITLES[8])
ax = panel((9, 1361, 482, 1716), (75, 1381.7, 462.5, 1662.3), (1975, 83.3, 11.22), (-10, 15),
           [15, 10, 5, 0, -5, -10], TICKS_4Y, TICKS_4Y_LABELS, 80, 35)
ax.plot(*xs_ys(FIN_BUS), color='#ff2a3a', lw=LW, zorder=3)
ax.plot(*xs_ys(OVERALL), color=BLUE, lw=LW, zorder=4)
note(169, 1407, 'Financial & Business', '#ff2a3a')
note(169, 1424, 'Services (0.51,  k=-1)*', '#ff2a3a')
note(378.5, 1468, 'Overall', BLUE)

# Panel 8: Financial and Business Services
title(902, 1333, TITLES[9])
ax = panel((669, 1361, 1150, 1716), (731.7, 1379.3, 1129.5, 1674), (1975, 743.3, 11.4), (-15, 20),
           [20, 15, 10, 5, 0, -5, -10, -15], TICKS_4Y, TICKS_4Y_LABELS, 736.7, 692)
ax.plot(*xs_ys(BUSINESS), color=GREEN, lw=LW, zorder=3)
ax.plot(*xs_ys(FINANCIAL), color=RED, lw=LW, zorder=3)
ax.plot(*xs_ys(OVERALL), color=BLUE, lw=LW, zorder=4)
note(890, 1437, 'Financial Services', RED)
note(888, 1454.5, '(0.30)', RED)
note(1047, 1481, 'Overall', BLUE)
note(896, 1628, 'Business Services', GREEN)
note(896, 1645, '(0.44, k=-2)*', GREEN)

fig.savefig('out.png', dpi=100)
